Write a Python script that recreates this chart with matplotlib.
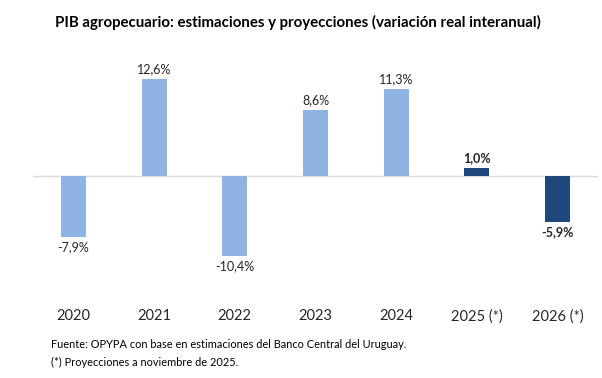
import matplotlib
matplotlib.use("Agg")
import matplotlib.pyplot as plt

years = ['2020', '2021', '2022', '2023', '2024', '2025 (*)', '2026 (*)']
values = [-7.9, 12.6, -10.4, 8.6, 11.3, 1.0, -5.9]
labels = ['-7,9%', '12,6%', '-10,4%', '8,6%', '11,3%', '1,0%', '-5,9%']
projected = [False, False, False, False, False, True, True]

light = '#8DB4E2'
dark = '#1F497D'

plt.rcParams['font.family'] = ['Lato', 'DejaVu Sans']

fig = plt.figure(figsize=(6.02, 3.78), dpi=100)
ax = fig.add_axes([33 / 602, 1 - 290 / 378, 565 / 602, 240 / 378])

x = list(range(len(years)))
colors = [dark if p else light for p in projected]
ax.bar(x, values, width=0.31, color=colors, zorder=2)
ax.axhline(0, color='#D9D9D9', lw=1, zorder=1)

for xi, v, lab, p in zip(x, values, labels, projected):
    if v >= 0:
        ax.annotate(lab, (xi, v), xytext=(0, 3), textcoords='offset points',
                    ha='center', va='bottom', fontsize=9,
                    fontweight='bold' if p else 'normal', color='#262626')
    else:
        ax.annotate(lab, (xi, v), xytext=(0, -3), textcoords='offset points',
                    ha='center', va='top', fontsize=9,
                    fontweight='bold' if p else 'normal', color='#262626')

ax.set_xlim(-0.5, len(years) - 0.5)
ax.set_ylim(-14.8, 16.4)
ax.set_xticks(x)
ax.set_xticklabels(years, fontsize=10.5, color='#262626')
ax.tick_params(axis='x', length=0, pad=14)
ax.set_yticks([])
for s in ax.spines.values():
    s.set_visible(False)

fig.text(298 / 602, 1 - 22 / 378, 'PIB agropecuario: estimaciones y proyecciones (variación real interanual)',
         ha='center', va='center', fontsize=10.8, fontweight='bold', color='black')
fig.text(51 / 602, 1 - 345 / 378, 'Fuente: OPYPA con base en estimaciones del Banco Central del Uruguay.',
         ha='left', va='center', fontsize=7.9, color='black')
fig.text(51 / 602, 1 - 362 / 378, '(*) Proyecciones a noviembre de 2025.',
         ha='left', va='center', fontsize=7.9, color='black')

fig.savefig('out.png', dpi=100)
